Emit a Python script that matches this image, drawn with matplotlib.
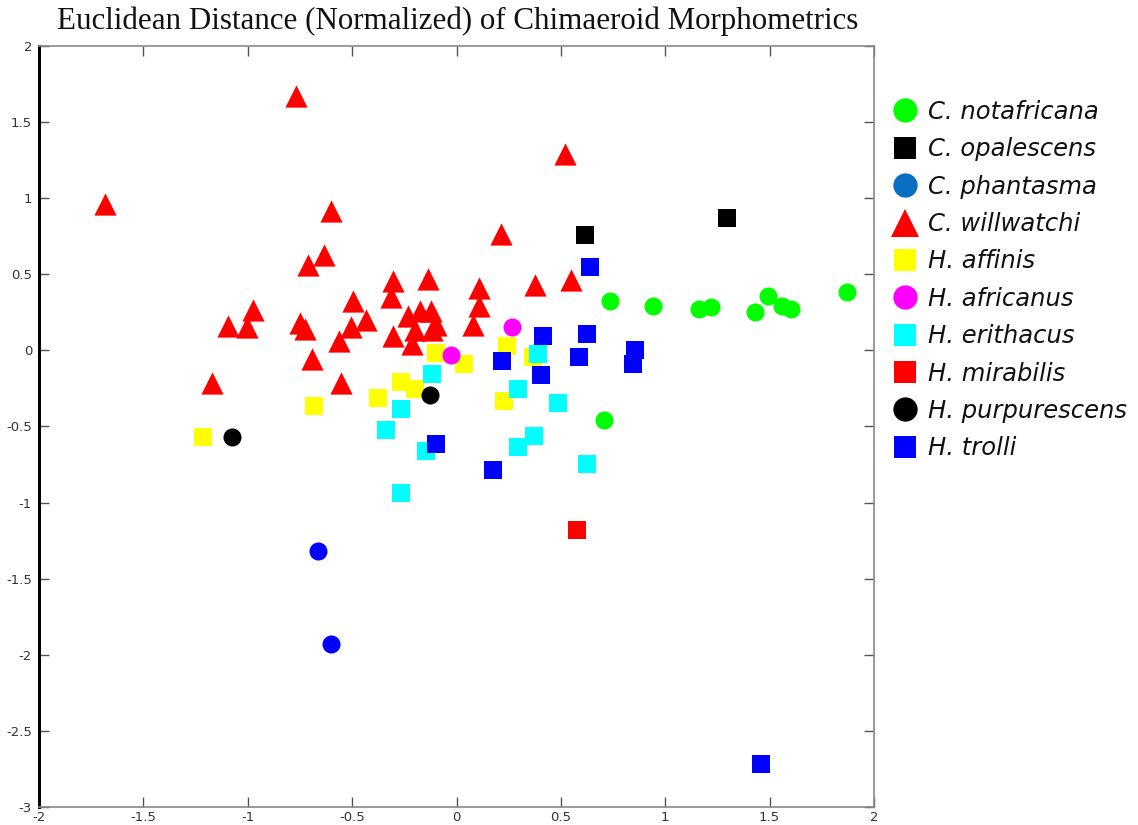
import matplotlib
matplotlib.use("Agg")
import matplotlib.pyplot as plt
from matplotlib.lines import Line2D

plt.rcParams['axes.unicode_minus'] = False

# ---- data ----
notafricana_x = [0.735, 0.939, 1.164, 1.218, 1.431, 1.492, 1.559, 1.600, 1.870, 0.706]
notafricana_y = [0.323, 0.295, 0.274, 0.287, 0.251, 0.359, 0.295, 0.271, 0.385, -0.455]

opalescens_x = [0.616, 1.295]
opalescens_y = [0.759, 0.868]

phantasma_x = [-0.662, -0.600]
phantasma_y = [-1.319, -1.929]

willwatchi_x = [-0.767, -1.683, -0.600, 0.518, 0.211, 0.377, 0.548,
                -0.635, -0.711, -0.975, -1.095, -1.004, -0.751, -0.724,
                -0.692, -1.172, -0.555, -0.494, -0.432, -0.507, -0.565,
                -0.302, -0.315, -0.136, 0.109, 0.109, 0.080, -0.232,
                -0.174, -0.123, -0.099, -0.117, -0.302, -0.211, -0.200]
willwatchi_y = [1.673, 0.965, 0.919, 1.293, 0.766, 0.427, 0.464,
                0.628, 0.558, 0.267, 0.160, 0.153, 0.182, 0.138,
                -0.054, -0.214, -0.214, 0.322, 0.201, 0.157, 0.059,
                0.453, 0.350, 0.466, 0.411, 0.295, 0.169, 0.223,
                0.262, 0.262, 0.169, 0.131, 0.092, 0.044, 0.131]

affinis_x = [-0.096, 0.035, -0.264, -0.200, -0.376, -0.683, -1.215, 0.243, 0.365, 0.227]
affinis_y = [-0.015, -0.092, -0.208, -0.252, -0.313, -0.367, -0.569, 0.028, -0.044, -0.335]

africanus_x = [0.264, -0.024]
africanus_y = [0.157, -0.028]

erithacus_x = [-0.117, -0.264, -0.336, -0.147, 0.392, 0.293, 0.484, 0.373, 0.293, 0.627, -0.264]
erithacus_y = [-0.153, -0.383, -0.521, -0.663, -0.022, -0.256, -0.346, -0.564, -0.634, -0.744, -0.938]

mirabilis_x = [0.576]
mirabilis_y = [-1.181]

purpurescens_x = [-1.076, -0.126]
purpurescens_y = [-0.569, -0.295]

trolli_x = [0.638, 0.416, 0.627, 0.216, 0.587, 0.855, 0.844, 0.404, -0.096, 0.176, 1.458]
trolli_y = [0.547, 0.092, 0.109, -0.070, -0.044, 0.005, -0.092, -0.160, -0.612, -0.787, -2.717]

xticks = [-2, -1.5, -1, -0.5, 0, 0.5, 1, 1.5, 2]
yticks = [-3, -2.5, -2, -1.5, -1, -0.5, 0, 0.5, 1, 1.5, 2]
xticklabels = ['-2', '-1.5', '-1', '-0.5', '0', '0.5', '1', '1.5', '2']
yticklabels = ['-3', '-2.5', '-2', '-1.5', '-1', '-0.5', '0', '0.5', '1', '1.5', '2']

title = "Euclidean Distance (Normalized) of Chimaeroid Morphometrics"

legend_labels = ['C. notafricana', 'C. opalescens', 'C. phantasma', 'C. willwatchi',
                 'H. affinis', 'H. africanus', 'H. erithacus', 'H. mirabilis',
                 'H. purpurescens', 'H. trolli']
legend_colors = ['#00ff00', '#000000', '#0a6fc2', '#ff0000', '#ffff00',
                 '#ff00ff', '#00ffff', '#ff0000', '#000000', '#0000ff']
legend_markers = ['o', 's', 'o', '^', 's', 'o', 's', 's', 'o', 's']

# ---- figure ----
fig = plt.figure(figsize=(11.38, 8.25), dpi=100)
ax = fig.add_axes([39 / 1138, 1 - 807 / 825, (874 - 39) / 1138, (807 - 46) / 825])

circ = 13.0 ** 2
sq = 13.5 ** 2
tri = 16.0 ** 2

ax.scatter(willwatchi_x, willwatchi_y, s=tri, marker='^', c='#ff0000', linewidths=0, zorder=3)
ax.scatter(affinis_x, affinis_y, s=sq, marker='s', c='#ffff00', linewidths=0, zorder=3)
ax.scatter(erithacus_x, erithacus_y, s=sq, marker='s', c='#00ffff', linewidths=0, zorder=3)
ax.scatter(trolli_x, trolli_y, s=sq, marker='s', c='#0000ff', linewidths=0, zorder=3)
ax.scatter(opalescens_x, opalescens_y, s=sq, marker='s', c='#000000', linewidths=0, zorder=3)
ax.scatter(mirabilis_x, mirabilis_y, s=sq, marker='s', c='#ff0000', linewidths=0, zorder=3)
ax.scatter(notafricana_x, notafricana_y, s=circ, marker='o', c='#00ff00', linewidths=0, zorder=3)
ax.scatter(phantasma_x, phantasma_y, s=circ, marker='o', c='#0000ff', linewidths=0, zorder=3)
ax.scatter(africanus_x, africanus_y, s=circ, marker='o', c='#ff00ff', linewidths=0, zorder=3)
ax.scatter(purpurescens_x, purpurescens_y, s=circ, marker='o', c='#000000', linewidths=0, zorder=3)

ax.set_xlim(-2, 2)
ax.set_ylim(-3, 2)
ax.set_xticks(xticks)
ax.set_xticklabels(xticklabels)
ax.set_yticks(yticks)
ax.set_yticklabels(yticklabels)

tickfont = ['Liberation Sans Narrow', 'DejaVu Sans']
for lab in ax.get_xticklabels() + ax.get_yticklabels():
    lab.set_family(tickfont)
    lab.set_fontsize(9.5)
    lab.set_color('#333333')

ax.tick_params(direction='in', length=7, width=1, color='#555555',
               top=True, right=True, labeltop=False, labelright=False, pad=3)
ax.tick_params(axis='y', pad=5)

for side in ['top', 'right', 'bottom']:
    ax.spines[side].set_color('#888888')
    ax.spines[side].set_linewidth(1.2)
ax.spines['left'].set_color('#000000')
ax.spines['left'].set_linewidth(2.2)

fig.text(458 / 1138, 1 - 21 / 825, title, ha='center', va='center',
         family=['Liberation Serif', 'DejaVu Serif'], fontsize=22.3, color='#111111')

# ---- legend ----
handles = []
for lab, col, mk in zip(legend_labels, legend_colors, legend_markers):
    if mk == '^':
        ms = 19.5
    elif mk == 'o':
        ms = 17.5
    else:
        ms = 16.5
    handles.append(Line2D([], [], linestyle='none', marker=mk, color=col,
                          markersize=ms, markeredgewidth=0, label=lab))
leg = fig.legend(handles=handles, loc='upper left',
                 bbox_to_anchor=(893 / 1138, 1 - 100 / 825),
                 frameon=False, handlelength=1.0, handletextpad=0.45,
                 labelspacing=0.55, borderpad=0, borderaxespad=0,
                 prop={'family': ['DejaVu Sans'], 'style': 'italic', 'size': 17.5})
for t in leg.get_texts():
    t.set_color('#111111')

fig.savefig('out.png', dpi=100)
